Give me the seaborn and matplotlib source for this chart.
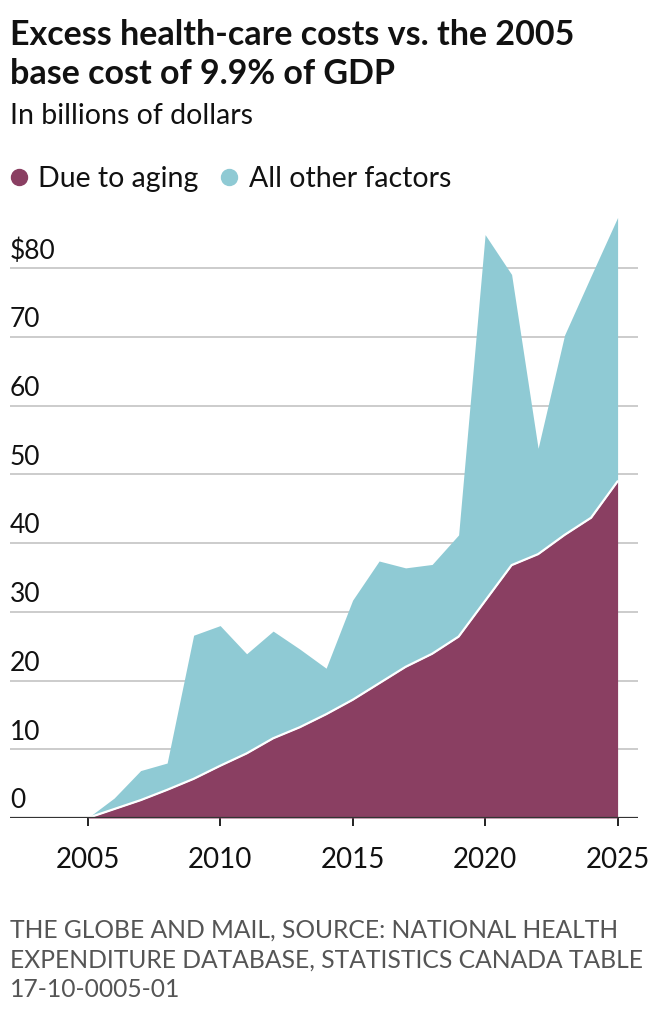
import numpy as np
import pandas as pd
import matplotlib
matplotlib.use('Agg')
import matplotlib.pyplot as plt
from matplotlib.lines import Line2D
import seaborn as sns

# Data (billions of dollars)
years = list(range(2005, 2026))
aging = [0, 1.3, 2.6, 4.1, 5.7, 7.6, 9.4, 11.6, 13.2, 15.1, 17.2,
         19.6, 22.0, 23.9, 26.4, 31.6, 36.8, 38.4, 41.2, 43.7, 49.0]
other = [0, 1.6, 4.3, 3.9, 20.9, 20.4, 14.5, 15.6, 11.4, 6.7, 14.5,
         17.8, 14.4, 13.0, 14.8, 53.3, 42.3, 15.4, 29.1, 35.2, 38.4]
series_names = ['Due to aging', 'All other factors']
yticks = [0, 10, 20, 30, 40, 50, 60, 70, 80]
ytick_labels = ['0', '10', '20', '30', '40', '50', '60', '70', '$80']
xticks = [2005, 2010, 2015, 2020, 2025]
xtick_labels = ['2005', '2010', '2015', '2020', '2025']

MAROON = '#8a3f62'
TEAL = '#8fcad4'

df = pd.DataFrame({'year': years, 'aging': aging, 'other': other})
df['total'] = df['aging'] + df['other']

sns.set_theme(style='white')
plt.rcParams['font.family'] = ['Lato', 'DejaVu Sans']

W, H = 660, 1014
fig = plt.figure(figsize=(W / 100, H / 100), dpi=100)


def fx(x):
    return x / W


def fy(y):
    return 1 - y / H


ax = fig.add_axes([fx(10), fy(818), 628 / W, (818 - 214) / H])

ax.fill_between(df['year'], 0, df['aging'], color=MAROON, lw=0, zorder=2)
ax.fill_between(df['year'], df['aging'], df['total'], color=TEAL, lw=0, zorder=2)
sns.lineplot(data=df, x='year', y='aging', color='white', lw=1.6, ax=ax, zorder=3)

ax.set_xlim(2002.07, 2025.77)
ax.set_ylim(0, 87.9)
sns.despine(ax=ax, left=True, bottom=True)

# gridlines with labels sitting above them
ax.set_yticks(yticks)
ax.set_yticklabels([])
ax.tick_params(axis='y', length=0)
ax.yaxis.grid(True, color='#cccccc', lw=1.4)
ax.set_axisbelow(True)
for t, lab in zip(yticks, ytick_labels):
    ax.annotate(lab, xy=(0, t), xycoords=('axes fraction', 'data'),
                xytext=(0, 7), textcoords='offset points',
                ha='left', va='baseline', fontsize=19, color='#111111')

ax.axhline(0, color='#333333', lw=1.6, zorder=5)
ax.set_xticks(xticks)
ax.set_xticklabels(xtick_labels, fontsize=20, color='#111111')
ax.tick_params(axis='x', direction='out', length=6, width=1.4,
               color='#222222', pad=15, bottom=True)
ax.set_xlabel('')
ax.set_ylabel('')

# titles
fig.text(fx(10), fy(45), 'Excess health-care costs vs. the 2005',
         fontsize=24.5, weight='bold', va='baseline', color='#111111')
fig.text(fx(10), fy(84), 'base cost of 9.9% of GDP',
         fontsize=24.5, weight='bold', va='baseline', color='#111111')
fig.text(fx(10), fy(124), 'In billions of dollars',
         fontsize=20.5, va='baseline', color='#111111')

# legend
for cx, tx, name, col in [(19, 38, series_names[0], MAROON),
                          (229, 249, series_names[1], TEAL)]:
    fig.add_artist(Line2D([fx(cx)], [fy(177)], marker='o', markersize=11.5,
                          color=col, transform=fig.transFigure))
    fig.text(fx(tx), fy(187), name, fontsize=20.5, va='baseline', color='#111111')

# source
for yy, line in [(938, 'THE GLOBE AND MAIL, SOURCE: NATIONAL HEALTH'),
                 (968, 'EXPENDITURE DATABASE, STATISTICS CANADA TABLE'),
                 (997, '17-10-0005-01')]:
    fig.text(fx(10), fy(yy), line, fontsize=17.7, va='baseline', color='#555555')

fig.savefig('out.png', dpi=100)
